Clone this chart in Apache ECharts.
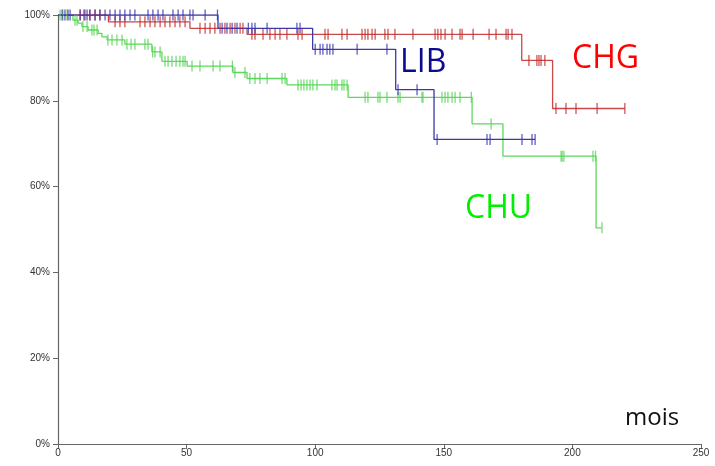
<!DOCTYPE html>
<html>
<head>
<meta charset="utf-8">
<script src="https://cdn.jsdelivr.net/npm/echarts@6/dist/echarts.min.js"></script>
<style>
    html, body { margin: 0; padding: 0; background: #fff; }
    #chart_km { width: 715px; height: 466px; }
</style>
</head>
<body>
<div id="chart_km"></div>
<script>
// axes
const xTicks = [0, 50, 100, 150, 200, 250];
const yTicks = [0, 20, 40, 60, 80, 100];

// CHG (rouge) : temps des marches, survie (%), fin de suivi, censures
const chgTimes = [0, 19.6, 51.3, 73.5, 180.3, 192.3];
const chgSurv = [100, 98.4, 96.9, 95.5, 89.4, 78.2];
const chgEnd = 220.4;
const chgCens = [8.6, 10.5, 12.4, 14.4, 16.3, 22.2, 24.1, 26.0, 31.9, 33.8, 35.8, 37.7, 39.7, 41.6, 43.5, 45.5,
    47.4, 49.4, 55.2, 57.2, 59.1, 61.0, 63.0, 64.9, 66.9, 68.8, 70.8, 71.9, 75.4, 76.6, 79.7, 82.4, 84.4, 86.3,
    89.0, 93.3, 94.9, 103.8, 105.0, 110.4, 112.4, 118.2, 119.4, 120.5, 122.1, 123.3, 127.1, 128.3, 131.0, 138.0,
    146.6, 147.7, 148.9, 150.5, 153.2, 156.3, 157.1, 161.4, 167.6, 170.3, 174.2, 175.0, 176.5, 183.1, 186.2,
    187.0, 187.8, 189.3, 193.6, 197.5, 201.4, 209.6, 220.4];

// LIB (bleu)
const libTimes = [0, 62.2, 99.0, 131.3, 146.2];
const libSurv = [100, 96.9, 92.0, 82.6, 71.0];
const libEnd = 185.5;
const libCens = [1.6, 2.7, 3.9, 4.7, 8.6, 10.1, 11.3, 12.4, 14.4, 16.3, 18.3, 20.2, 22.2, 24.1, 26.0, 28.0, 29.9,
    35.0, 36.9, 38.9, 40.8, 44.7, 46.7, 48.6, 51.3, 52.5, 57.2, 62.0, 63.8, 65.7, 67.7, 69.6, 74.0, 75.4, 76.6,
    81.3, 92.9, 94.1, 100.0, 101.9, 103.0, 104.6, 105.7, 106.9, 116.3, 127.9, 132.2, 139.6, 147.4, 166.8,
    168.0, 180.4, 184.3, 185.5];

// CHU (vert)
const chuTimes = [0, 5.8, 7.8, 9.3, 11.7, 15.6, 17.1, 19.1, 26.0, 36.5, 40.4, 50.2, 68.0, 73.5, 89.0, 112.8,
    161.0, 173.0, 209.2];
const chuSurv = [100, 98.8, 98.1, 97.3, 96.5, 95.7, 94.9, 94.2, 93.2, 91.4, 89.2, 88.1, 86.6, 85.2, 83.7, 80.8,
    74.6, 67.1, 50.4];
const chuEnd = 211.4;
const chuCens = [0.8, 1.9, 3.5, 6.6, 7.4, 9.7, 11.3, 13.2, 14.0, 15.2, 19.4, 21.0, 22.9, 24.9, 26.8, 28.4, 29.9,
    33.8, 35.0, 36.8, 37.7, 39.7, 41.6, 42.8, 44.3, 45.9, 47.4, 48.6, 49.4, 52.1, 55.2, 60.3, 63.0, 67.8, 68.8,
    72.7, 74.6, 76.6, 78.5, 81.3, 87.1, 88.3, 93.3, 94.5, 95.6, 96.8, 98.0, 99.1, 100.7, 106.5, 107.7, 108.5,
    110.4, 111.2, 112.4, 119.4, 120.5, 124.4, 125.2, 127.9, 132.2, 133.0, 141.5, 141.9, 149.3, 150.5, 151.6,
    153.2, 154.4, 156.3, 160.7, 168.4, 195.6, 196.0, 196.7, 208.0, 209.0, 211.5];

function stepData(times, surv, end) {
    let arr = times.map((t, i) => [t, surv[i]]);
    arr.push([end, surv[surv.length - 1]]);
    return arr;
}
function survAt(times, surv, t) {
    let s = surv[0];
    times.forEach((tt, i) => {
        if (tt <= t) s = surv[i];
    });
    return s;
}
function censData(times, surv, cens) {
    return cens.map(t => [t, survAt(times, surv, t)]);
}

function getStepSerie(name, data, color) {
    return {
        name: name,
        type: "line",
        step: "end",
        showSymbol: false,
        silent: true,
        lineStyle: { color: color, width: 1.3 },
        data: data,
        z: 2,
    };
}
function getCensSerie(name, data, color) {
    return {
        name: name + "_c",
        type: "scatter",
        symbol: "rect",
        symbolSize: [1.3, 11],
        silent: true,
        itemStyle: { color: color },
        data: data,
        z: 3,
    };
}

const axisText = { color: "#333", fontSize: 10, fontFamily: "Liberation Sans, Arial, sans-serif" };

const option = {
    animation: false,
    grid: { left: 58, right: 14, top: 15, bottom: 22 },
    xAxis: {
        type: "value",
        min: xTicks[0],
        max: xTicks[xTicks.length - 1],
        interval: 50,
        axisLine: { lineStyle: { color: "#666", width: 1.2 } },
        axisTick: { show: true, length: 5, lineStyle: { color: "#666" } },
        axisLabel: Object.assign({ margin: 4 }, axisText),
        splitLine: { show: false },
    },
    yAxis: {
        type: "value",
        min: yTicks[0],
        max: yTicks[yTicks.length - 1],
        interval: 20,
        axisLine: { show: true, lineStyle: { color: "#666", width: 1.2 } },
        axisTick: { show: true, length: 5, lineStyle: { color: "#666" } },
        axisLabel: Object.assign({ margin: 8, formatter: "{value}%" }, axisText),
        splitLine: { show: false },
    },
    series: [
        getStepSerie("CHU", stepData(chuTimes, chuSurv, chuEnd), "#5ed85e"),
        getStepSerie("CHG", stepData(chgTimes, chgSurv, chgEnd), "#c94848"),
        getStepSerie("LIB", stepData(libTimes, libSurv, libEnd), "#3b38a8"),
        getCensSerie("CHU", censData(chuTimes, chuSurv, chuCens), "#55d555"),
        getCensSerie("CHG", censData(chgTimes, chgSurv, chgCens), "#c42a2a"),
        getCensSerie("LIB", censData(libTimes, libSurv, libCens), "#3a36b0"),
    ],
    graphic: [
        { type: "text", left: 400, top: 47, style: { text: "LIB", fill: "#0b0b8f", font: "32px 'Open Sans', sans-serif" } },
        { type: "text", left: 572, top: 43, style: { text: "CHG", fill: "#ff0000", font: "32px 'Open Sans', sans-serif" } },
        { type: "text", left: 465, top: 193, style: { text: "CHU", fill: "#00ee00", font: "32px 'Open Sans', sans-serif" } },
        { type: "text", left: 625, top: 406, style: { text: "mois", fill: "#111", font: "24px 'Open Sans', sans-serif" } },
    ],
};

const myChart = echarts.init(document.getElementById("chart_km"));
myChart.setOption(option);
window.addEventListener("resize", () => {
    myChart.resize();
});
</script>
</body>
</html>
